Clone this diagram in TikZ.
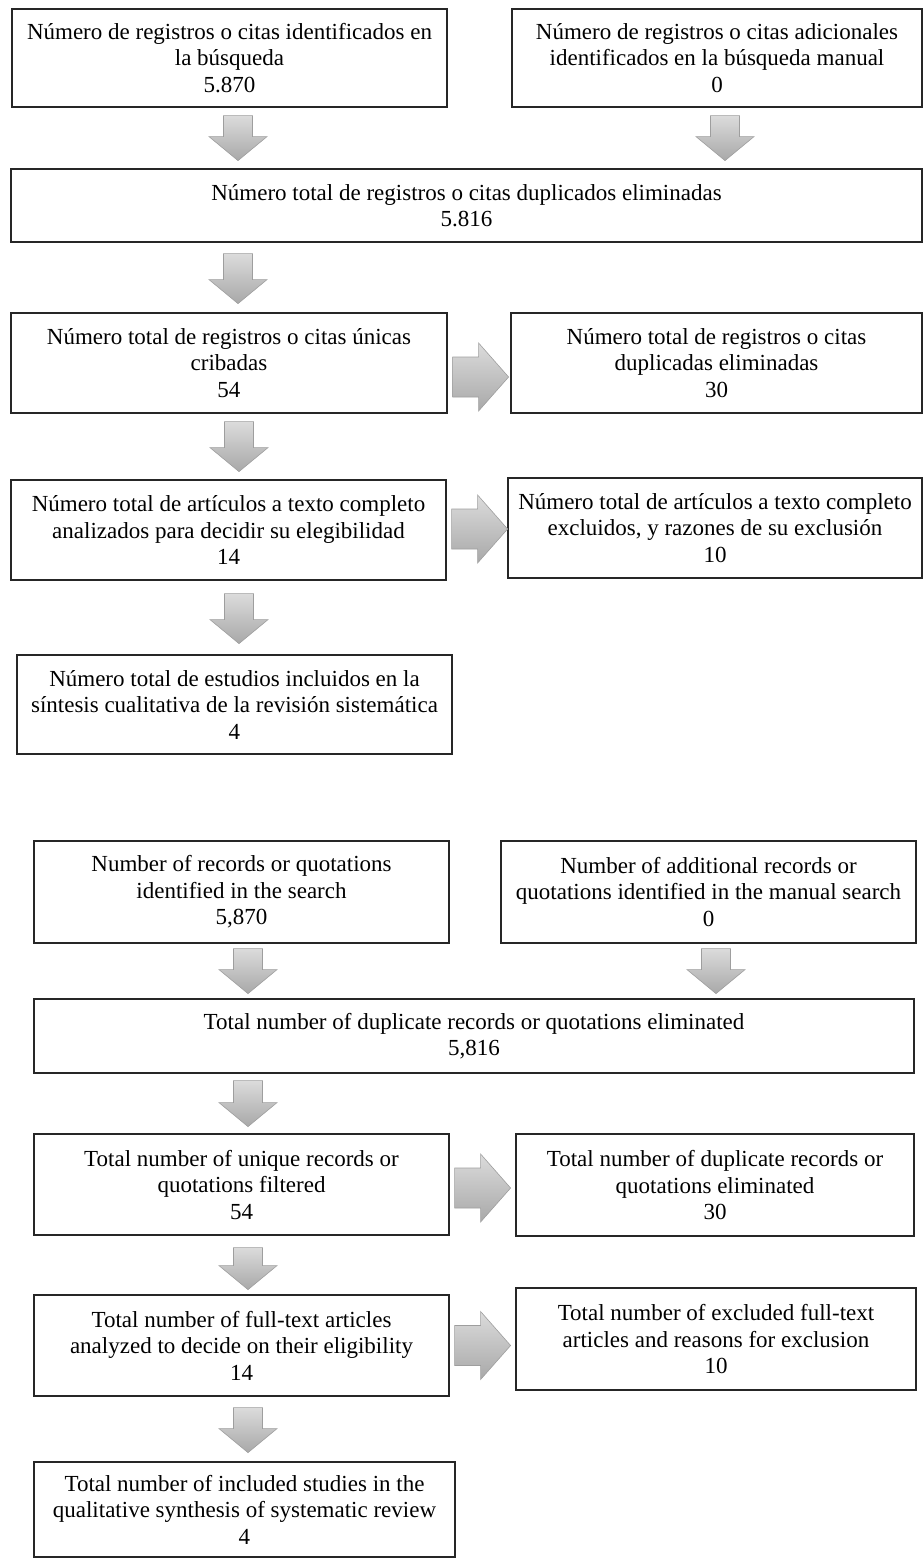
\documentclass[tikz,border=0pt]{standalone}
\usepackage{fontspec}
\setmainfont{Liberation Serif}
\usetikzlibrary{calc}

\begin{document}
\begin{tikzpicture}[x=1pt,y=-1pt,
  box/.style={draw=black!85,line width=1.2pt,fill=white,align=center,inner sep=2pt,
    font=\fontsize{23}{26.5}\selectfont},
  blockfill/.style={top color=black!14,bottom color=black!34,draw=black!38,line width=0.6pt},
  pics/downblock/.style={code={
    \shade[blockfill] (-14.5,0) -- (14.5,0) -- (14.5,{#1-24}) -- (29,{#1-24}) -- (0,#1)
      -- (-29,{#1-24}) -- (-14.5,{#1-24}) -- cycle;}},
  pics/rightblock/.style={code={
    \shade[blockfill] (0,-20) -- (26,-20) -- (26,-34) -- (56,0) -- (26,34) -- (26,20)
      -- (0,20) -- cycle;}}]
 \useasboundingbox (0,0) rectangle (924,1559);
 % version en espanol
 \begin{scope}
  \node[box,minimum width=435pt,minimum height=98pt] (s1) at (229.5,58)
   {Número de registros o citas identificados en\\la búsqueda\\5.870};
  \node[box,minimum width=410pt,minimum height=98pt] (s2) at (717,58)
   {Número de registros o citas adicionales\\identificados en la búsqueda manual\\0};
  \node[box,minimum width=911pt,minimum height=73pt] (s3) at (466.5,205.5)
   {Número total de registros o citas duplicados eliminadas\\5.816};
  \node[box,minimum width=436pt,minimum height=100pt] (s4) at (229,363)
   {Número total de registros o citas únicas\\cribadas\\54};
  \node[box,minimum width=411pt,minimum height=100pt] (s5) at (716.5,363)
   {Número total de registros o citas\\duplicadas eliminadas\\30};
  \node[box,minimum width=435pt,minimum height=100pt] (s6) at (228.5,530)
   {Número total de artículos a texto completo\\analizados para decidir su elegibilidad\\14};
  \node[box,minimum width=414pt,minimum height=100pt] (s7) at (715,528)
   {Número total de artículos a texto completo\\excluidos, y razones de su exclusión\\10};
  \node[box,minimum width=435pt,minimum height=99pt] (s8) at (234.5,704.5)
   {Número total de estudios incluidos en la\\síntesis cualitativa de la revisión sistemática\\4};
  \pic at ($(s1.south)+(8.5,8)$) {downblock=45};
  \pic at ($(s2.south)+(8,8)$) {downblock=45};
  \pic at ($(s1.south |- s3.south)+(8.5,11)$) {downblock=50};
  \pic at ($(s4.south)+(10,8)$) {downblock=50};
  \pic at ($(s6.south)+(10.5,13)$) {downblock=50};
  \pic at ($(s4.east)+(5,14)$) {rightblock};
  \pic at ($(s6.east)+(5,-1)$) {rightblock};
 \end{scope}
 % english version
 \begin{scope}
  \node[box,minimum width=415pt,minimum height=102pt] (e1) at (241.5,892)
   {Number of records or quotations\\identified in the search\\5,870};
  \node[box,minimum width=415pt,minimum height=102pt] (e2) at (708.5,892)
   {Number of additional records or\\quotations identified in the manual search\\0};
  \node[box,minimum width=880pt,minimum height=74pt] (e3) at (474,1036)
   {Total number of duplicate records or quotations eliminated\\5,816};
  \node[box,minimum width=415pt,minimum height=101pt] (e4) at (241.5,1184.5)
   {Total number of unique records or\\quotations filtered\\54};
  \node[box,minimum width=398pt,minimum height=102pt] (e5) at (715,1185)
   {Total number of duplicate records or\\quotations eliminated\\30};
  \node[box,minimum width=415pt,minimum height=101pt] (e6) at (241.5,1345.5)
   {Total number of full-text articles\\analyzed to decide on their eligibility\\14};
  \node[box,minimum width=400pt,minimum height=102pt] (e7) at (716,1339)
   {Total number of excluded full-text\\articles and reasons for exclusion\\10};
  \node[box,minimum width=421pt,minimum height=95pt] (e8) at (244.5,1509.5)
   {Total number of included studies in the\\qualitative synthesis of systematic review\\4};
  \pic at ($(e1.south)+(6.5,5)$) {downblock=45};
  \pic at ($(e2.south)+(7.5,5)$) {downblock=45};
  \pic at ($(e1.south |- e3.south)+(6.5,7)$) {downblock=46};
  \pic at ($(e4.south)+(6.5,12)$) {downblock=42};
  \pic at ($(e6.south)+(6.5,11)$) {downblock=45};
  \pic at ($(e4.east)+(5,3.5)$) {rightblock};
  \pic at ($(e6.east)+(5,0)$) {rightblock};
 \end{scope}
\end{tikzpicture}
\end{document}
